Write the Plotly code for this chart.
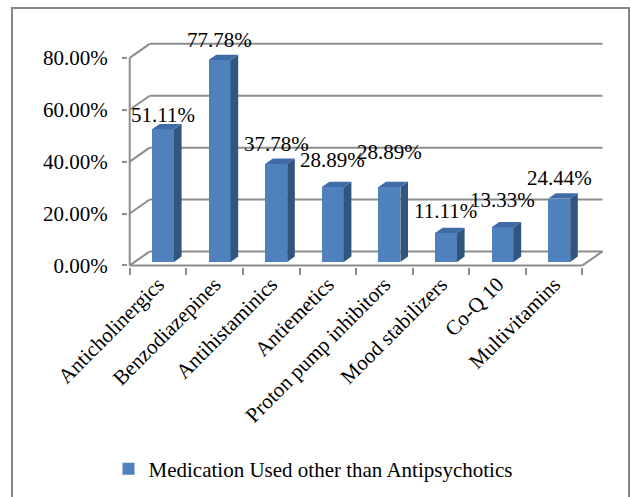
import plotly.graph_objects as go

categories = ["Anticholinergics", "Benzodiazepines", "Antihistaminics", "Antiemetics",
              "Proton pump inhibitors", "Mood stabilizers", "Co-Q 10", "Multivitamins"]
values = [51.11, 77.78, 37.78, 28.89, 28.89, 11.11, 13.33, 24.44]
series_name = "Medication Used other than Antipsychotics"
y_ticks = [0, 20, 40, 60, 80]

# label vertical offsets (px) above bar tops, as in the reference
label_dy = [14, 20, 20, 27, 35, 22, 27, 21]

# ---- geometry / style ----
W, H = 631, 497
ML, MR, MT, MB = 128, 21, 35, 230
XR = [-0.53, 7.986]
YR = [-0.6, 88.8]
pw = W - ML - MR
ph = H - MT - MB
sx = pw / (XR[1] - XR[0])          # px per category
sy = ph / (YR[1] - YR[0])          # px per percent
DX = 20 / sx                        # depth offset in data units
DY = 14 / sy
t1, t2 = 0.25, 0.63                 # bar front/back depth fractions
bw = 22 / sx                        # bar width
off = -bw / 2 + t1 * DX
base = t1 * DY
ddx = (t2 - t1) * DX
ddy = (t2 - t1) * DY

FRONT = "#4F81BD"
SIDE = "#30557F"
TOP = "#3F6CA6"
GRID = "#8C8C8C"
FONT = "Liberation Serif, Times New Roman, serif"

n = len(categories)
xs = list(range(n))

fig = go.Figure()
fig.add_trace(go.Bar(
    x=xs, y=values, base=[base] * n, width=bw, offset=off,
    marker=dict(color=FRONT, line=dict(width=0)),
    name=series_name, showlegend=True, hoverinfo="skip"))

sxp, syp, txp, typ = [], [], [], []
for i, v in enumerate(values):
    xl = i + off
    xr = xl + bw
    top = base + v
    sxp += [xr, xr, xr + ddx, xr + ddx, xr, None]
    syp += [base, top, top + ddy, base + ddy, base, None]
    txp += [xl, xr, xr + ddx, xl + ddx, xl, None]
    typ += [top, top, top + ddy, top + ddy, top, None]

fig.add_trace(go.Scatter(x=sxp, y=syp, mode="lines", fill="toself", fillcolor=SIDE,
                         line=dict(width=0, color=SIDE), showlegend=False, hoverinfo="skip"))
fig.add_trace(go.Scatter(x=txp, y=typ, mode="lines", fill="toself", fillcolor=TOP,
                         line=dict(width=0, color=TOP), showlegend=False, hoverinfo="skip"))

shapes = []
x0, x1 = -0.5, n - 0.5
for g in y_ticks:
    shapes.append(dict(type="line", xref="x", yref="y", x0=x0 + DX, x1=x1 + DX, y0=g + DY, y1=g + DY,
                       line=dict(color=GRID, width=2), layer="below"))
    shapes.append(dict(type="line", xref="x", yref="y", x0=x0, x1=x0 + DX, y0=g, y1=g + DY,
                       line=dict(color=GRID, width=2), layer="below"))
# front floor edge and right floor edge
shapes.append(dict(type="line", xref="x", yref="y", x0=x0, x1=x1, y0=0, y1=0,
                   line=dict(color=GRID, width=2), layer="below"))
shapes.append(dict(type="line", xref="x", yref="y", x0=x1, x1=x1 + DX, y0=0, y1=DY,
                   line=dict(color=GRID, width=2), layer="below"))
# front vertical axis line
shapes.append(dict(type="line", xref="x", yref="y", x0=x0, x1=x0, y0=0, y1=y_ticks[-1],
                   line=dict(color=GRID, width=2), layer="below"))
# outer frame
def px2paper_x(p):
    return (p - ML) / pw
def px2paper_y(p):
    return (H - MB - p) / ph
shapes.append(dict(type="rect", xref="paper", yref="paper",
                   x0=px2paper_x(12), x1=px2paper_x(629), y0=px2paper_y(8), y1=px2paper_y(520),
                   line=dict(color="#868686", width=2), fillcolor="rgba(0,0,0,0)"))

annotations = []
for i, v in enumerate(values):
    annotations.append(dict(x=i + t1 * DX, y=base + v, xref="x", yref="y",
                            text=f"{v:.2f}%", showarrow=False, yanchor="middle",
                            xanchor="center", yshift=label_dy[i],
                            font=dict(family=FONT, size=21, color="black")))

fig.update_layout(
    width=W, height=H,
    margin=dict(l=ML, r=MR, t=MT, b=MB, pad=0, autoexpand=False),
    paper_bgcolor="white", plot_bgcolor="rgba(0,0,0,0)",
    font=dict(family=FONT, size=21, color="black"),
    shapes=shapes, annotations=annotations,
    showlegend=True,
    legend=dict(orientation="h", x=px2paper_x(313), xanchor="center", y=px2paper_y(469), yanchor="middle",
                itemwidth=30,
                font=dict(family=FONT, size=21, color="black"), bgcolor="rgba(0,0,0,0)"),
    bargap=0,
)
fig.update_xaxes(range=XR, tickmode="array", tickvals=xs, ticktext=categories,
                 tickangle=-45, ticks="", showgrid=False, zeroline=False, showline=False,
                 automargin=False,
                 minor=dict(tickmode="array", tickvals=[i - 0.5 for i in range(n + 1)],
                            ticks="outside", ticklen=7, tickcolor=GRID, tickwidth=1.5,
                            showgrid=False),
                 tickfont=dict(family=FONT, size=21, color="black"), fixedrange=True)
fig.update_yaxes(range=YR, tickmode="array", tickvals=y_ticks,
                 ticktext=[f"{t:.2f}%" for t in y_ticks],
                 ticks="outside", ticklen=5, tickcolor=GRID, tickwidth=1.5,
                 ticklabelstandoff=10, automargin=False,
                 showgrid=False, zeroline=False, showline=False,
                 tickfont=dict(family=FONT, size=21, color="black"), fixedrange=True)

fig.write_html("out.html", config={"displayModeBar": False},
               post_script="document.body.style.margin='0';document.body.style.overflow='hidden';")
